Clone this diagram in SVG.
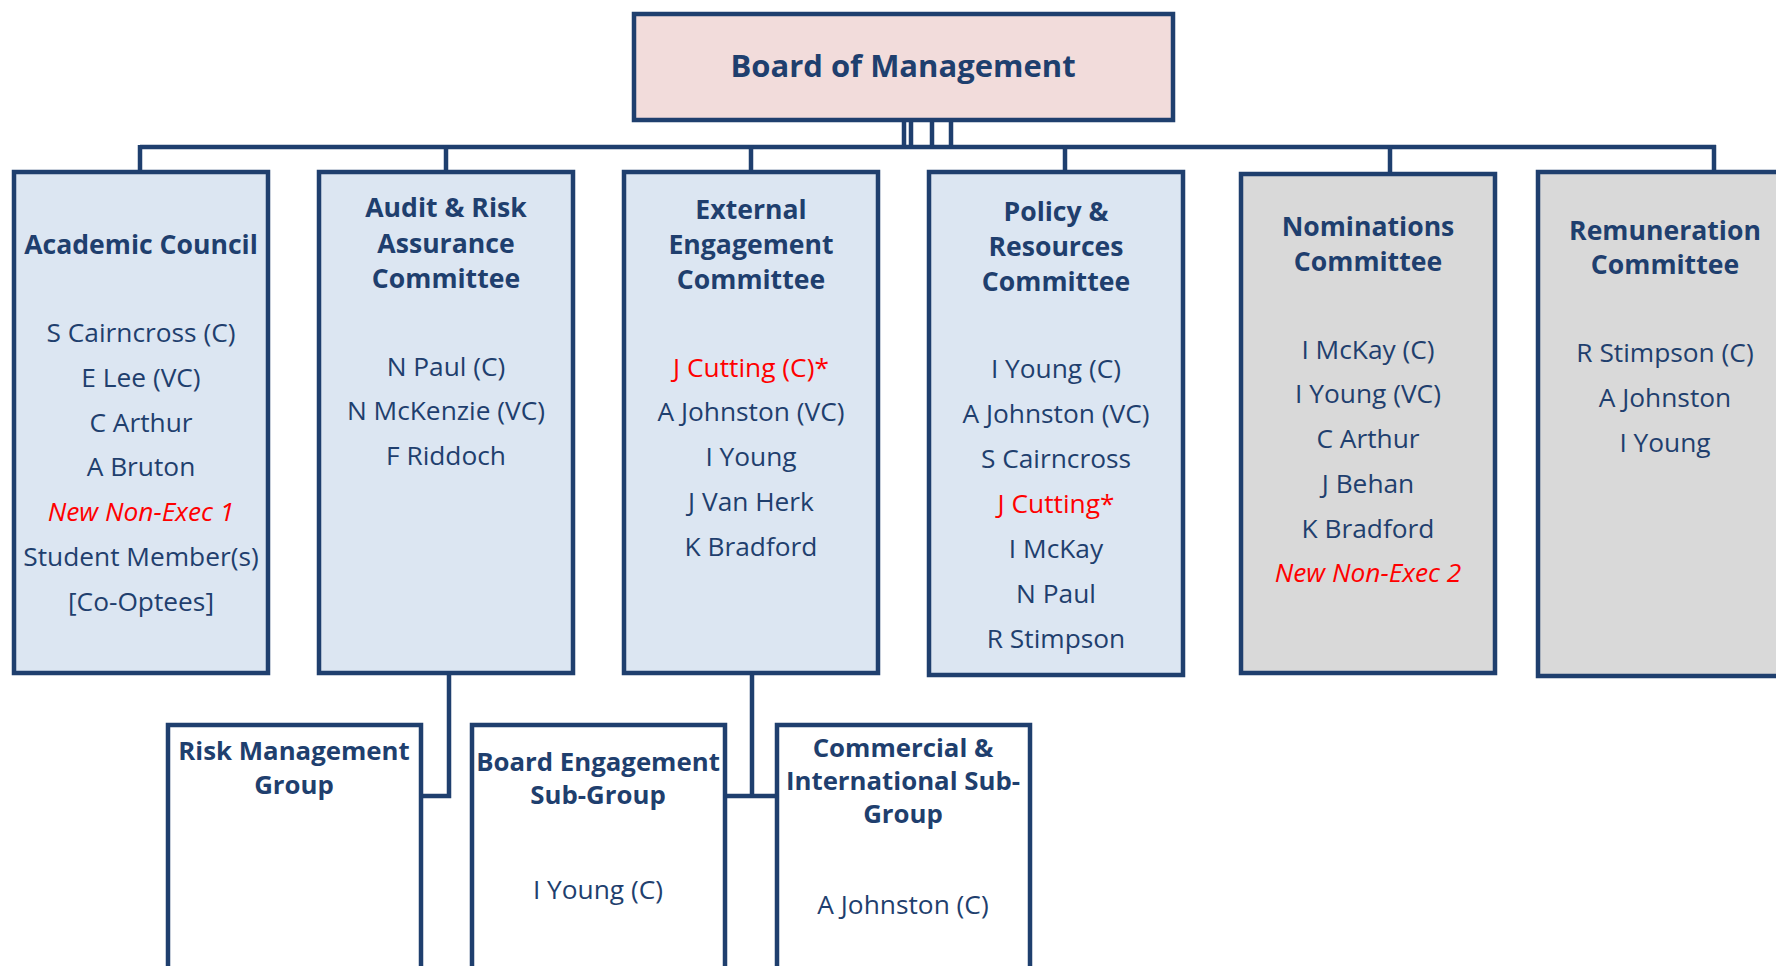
<svg xmlns="http://www.w3.org/2000/svg" width="1776" height="966" viewBox="0 0 1776 966">
<style>
.box{stroke:#1F3F6E;stroke-width:4.5;}
.blue{fill:#DCE6F2;}
.grey{fill:#D9D9D9;}
.pink{fill:#F2DCDB;}
.white{fill:#FFFFFF;}
.conn{stroke:#1F3F6E;stroke-width:4.5;fill:none;}
text{font-family:"Open Sans","Liberation Sans",sans-serif;text-anchor:middle;fill:#1F3F6E;}
.t{font-weight:bold;font-size:26.6px;}
.s{font-size:25.8px;}
.m{font-size:26.3px;}
.red{fill:#FF0000;}
.it{font-style:italic;}
</style>
<rect width="1776" height="966" fill="#FFFFFF"/>
<g id="connectors">
<line class="conn" x1="140" y1="147" x2="1716" y2="147"/>
<line class="conn" x1="904" y1="120" x2="904" y2="147"/>
<line class="conn" x1="911" y1="120" x2="911" y2="147"/>
<line class="conn" x1="932" y1="120" x2="932" y2="147"/>
<line class="conn" x1="951" y1="120" x2="951" y2="147"/>
<line class="conn" x1="140" y1="145" x2="140" y2="172"/>
<line class="conn" x1="446" y1="145" x2="446" y2="172"/>
<line class="conn" x1="751" y1="145" x2="751" y2="172"/>
<line class="conn" x1="1065" y1="145" x2="1065" y2="172"/>
<line class="conn" x1="1390" y1="145" x2="1390" y2="174"/>
<line class="conn" x1="1714" y1="145" x2="1714" y2="172"/>
<polyline class="conn" points="449,673 449,796 421,796"/>
<line class="conn" x1="752" y1="673" x2="752" y2="796"/>
<line class="conn" x1="725" y1="796" x2="777" y2="796"/>
</g>
<g id="board">
<rect class="box pink" x="634" y="14" width="539" height="106"/>
<text x="903" y="77" style="font-weight:bold;font-size:31px">Board of Management</text>
</g>
<g id="academic">
<rect class="box blue" x="14" y="172" width="254" height="501"/>
<text class="t" x="141" y="254">Academic Council</text>
<text class="m" x="141" y="342">S Cairncross (C)</text>
<text class="m" x="141" y="387">E Lee (VC)</text>
<text class="m" x="141" y="432">C Arthur</text>
<text class="m" x="141" y="476">A Bruton</text>
<text class="m red it" x="141" y="521">New Non-Exec 1</text>
<text class="m" x="141" y="566">Student Member(s)</text>
<text class="m" x="141" y="611">[Co-Optees]</text>
</g>
<g id="audit">
<rect class="box blue" x="319" y="172" width="254" height="501"/>
<text class="t" x="446" y="217">Audit &amp; Risk</text>
<text class="t" x="446" y="253">Assurance</text>
<text class="t" x="446" y="288">Committee</text>
<text class="m" x="446" y="376">N Paul (C)</text>
<text class="m" x="446" y="420">N McKenzie (VC)</text>
<text class="m" x="446" y="465">F Riddoch</text>
</g>
<g id="external">
<rect class="box blue" x="624" y="172" width="254" height="501"/>
<text class="t" x="751" y="219">External</text>
<text class="t" x="751" y="254">Engagement</text>
<text class="t" x="751" y="289">Committee</text>
<text class="m red" x="751" y="377">J Cutting (C)*</text>
<text class="m" x="751" y="421">A Johnston (VC)</text>
<text class="m" x="751" y="466">I Young</text>
<text class="m" x="751" y="511">J Van Herk</text>
<text class="m" x="751" y="556">K Bradford</text>
</g>
<g id="policy">
<rect class="box blue" x="929" y="172" width="254" height="503"/>
<text class="t" x="1056" y="221">Policy &amp;</text>
<text class="t" x="1056" y="256">Resources</text>
<text class="t" x="1056" y="291">Committee</text>
<text class="m" x="1056" y="378">I Young (C)</text>
<text class="m" x="1056" y="423">A Johnston (VC)</text>
<text class="m" x="1056" y="468">S Cairncross</text>
<text class="m red" x="1056" y="513">J Cutting*</text>
<text class="m" x="1056" y="558">I McKay</text>
<text class="m" x="1056" y="603">N Paul</text>
<text class="m" x="1056" y="648">R Stimpson</text>
</g>
<g id="nominations">
<rect class="box grey" x="1241" y="174" width="254" height="499"/>
<text class="t" x="1368" y="236">Nominations</text>
<text class="t" x="1368" y="271">Committee</text>
<text class="m" x="1368" y="359">I McKay (C)</text>
<text class="m" x="1368" y="403">I Young (VC)</text>
<text class="m" x="1368" y="448">C Arthur</text>
<text class="m" x="1368" y="493">J Behan</text>
<text class="m" x="1368" y="538">K Bradford</text>
<text class="m red it" x="1368" y="582">New Non-Exec 2</text>
</g>
<g id="remuneration">
<rect class="box grey" x="1538" y="172" width="256" height="504"/>
<text class="t" x="1665" y="240">Remuneration</text>
<text class="t" x="1665" y="274">Committee</text>
<text class="m" x="1665" y="362">R Stimpson (C)</text>
<text class="m" x="1665" y="407">A Johnston</text>
<text class="m" x="1665" y="452">I Young</text>
</g>
<g id="risk">
<rect class="box white" x="168" y="725" width="253" height="260"/>
<text class="t s" x="294" y="760">Risk Management</text>
<text class="t s" x="294" y="794">Group</text>
</g>
<g id="board-engagement">
<rect class="box white" x="472" y="725" width="253" height="260"/>
<text class="t s" x="598" y="771">Board Engagement</text>
<text class="t s" x="598" y="804">Sub-Group</text>
<text class="m" x="598" y="899">I Young (C)</text>
</g>
<g id="commercial">
<rect class="box white" x="777" y="725" width="253" height="260"/>
<text class="t s" x="903" y="757">Commercial &amp;</text>
<text class="t s" x="903" y="790">International Sub-</text>
<text class="t s" x="903" y="823">Group</text>
<text class="m" x="903" y="914">A Johnston (C)</text>
</g>
</svg>
